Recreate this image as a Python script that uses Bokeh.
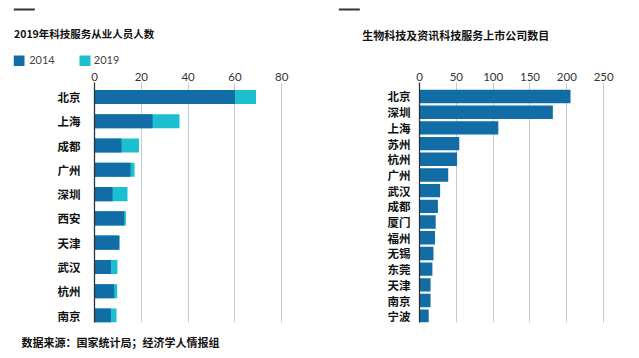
from bokeh.plotting import figure
from bokeh.models import Range1d, FixedTicker
from bokeh.layouts import row, column
from bokeh.core.properties import value
from bokeh.embed import file_html
from bokeh.resources import INLINE

# ---- data ----
cities1 = ["北京", "上海", "成都", "广州", "深圳", "西安", "天津", "武汉", "杭州", "南京"]
staff_2014 = [60, 24.8, 11.5, 15.4, 7.7, 12.7, 10.7, 7.0, 8.4, 7.0]
staff_2019 = [69, 36.3, 19.0, 17.1, 14.1, 13.4, 10.3, 9.8, 9.7, 9.4]
ticks1 = [0, 20, 40, 60, 80]

cities2 = ["北京", "深圳", "上海", "苏州", "杭州", "广州", "武汉", "成都", "厦门", "福州",
           "无锡", "东莞", "天津", "南京", "宁波"]
companies = [205, 181, 107, 54, 51, 39, 28, 25, 22, 21, 19, 17.5, 15, 15, 12.5]
ticks2 = [0, 50, 100, 150, 200, 250]

title1 = "2019年科技服务从业人员人数"
title2 = "生物科技及资讯科技服务上市公司数目"
source = "数据来源：国家统计局；经济学人情报组"
legend_labels = ["2014", "2019"]

DARK = "#126ca5"
LIGHT = "#1bbfd0"
GRID = "#bfcdd6"
INK = "#333333"
CJK = "Noto Sans CJK SC"
NUM = "Lato"

W = 631
HEAD_H = 66
CHART_H = 264
FOOT_H = 20
TOP = 82 - HEAD_H


def canvas_fig(width, height):
    p = figure(width=width, height=height, output_backend="svg", toolbar_location=None,
               x_range=Range1d(0, width), y_range=Range1d(height, 0),
               x_axis_type=None, y_axis_type=None, min_border=0)
    p.outline_line_color = None
    p.grid.visible = False
    return p


def chart(width, left, right, xend, ystart, yend, ticks, cats, standoff_x, standoff_y):
    p = figure(width=width, height=CHART_H, output_backend="svg", toolbar_location=None,
               x_range=Range1d(0, xend), y_range=Range1d(ystart, yend),
               x_axis_location="above",
               min_border_left=left, min_border_right=right,
               min_border_top=TOP, min_border_bottom=CHART_H - TOP - 240)
    p.outline_line_color = None
    p.xaxis.ticker = FixedTicker(ticks=ticks)
    p.xgrid.ticker = p.xaxis.ticker
    p.xgrid.grid_line_color = GRID
    p.xgrid.grid_line_width = 1
    p.ygrid.grid_line_color = None
    p.xaxis.axis_line_color = None
    p.xaxis.major_tick_line_color = None
    p.xaxis.minor_tick_line_color = None
    p.xaxis.major_tick_out = 0
    p.xaxis.major_tick_in = 0
    p.xaxis.minor_tick_out = 0
    p.xaxis.major_label_text_font = NUM
    p.xaxis.major_label_text_font_size = "11.5px"
    p.xaxis.major_label_text_color = INK
    p.xaxis.major_label_standoff = standoff_x
    ys = list(range(len(cats)))
    p.yaxis.ticker = FixedTicker(ticks=ys)
    p.yaxis.major_label_overrides = {i: c for i, c in enumerate(cats)}
    p.yaxis.axis_line_color = INK
    p.yaxis.axis_line_width = 1.3
    p.yaxis.major_tick_line_color = None
    p.yaxis.minor_tick_line_color = None
    p.yaxis.major_tick_out = 0
    p.yaxis.major_tick_in = 0
    p.yaxis.minor_tick_out = 0
    p.yaxis.major_label_text_font = CJK
    p.yaxis.major_label_text_font_style = "bold"
    p.yaxis.major_label_text_font_size = "11.5px"
    p.yaxis.major_label_text_color = "#111111"
    p.yaxis.major_label_standoff = standoff_y
    return p, ys


# ---- header (titles, rules, legend) ----
head = canvas_fig(W, HEAD_H)
head.quad(left=[13.3, 338.3], right=[34.3, 359.3], top=[8, 8], bottom=[10, 10],
          fill_color=INK, line_color=None)
head.text(x=[13.5], y=[33], text=[title1],
          text_font=value(CJK), text_font_size="10.5px", text_font_style="bold",
          text_color="#111111", text_baseline="middle", text_align="left")
head.text(x=[361.7], y=[34], text=[title2],
          text_font=value(CJK), text_font_size="11px", text_font_style="bold",
          text_color="#111111", text_baseline="middle", text_align="left")
head.quad(left=[13.3, 79], right=[24, 90], top=[55, 55], bottom=[65.7, 65.7],
          fill_color=[DARK, LIGHT], line_color=None)
head.text(x=[28.7, 93.3], y=[59.3, 59.3], text=legend_labels,
          text_font=value(NUM), text_font_size="11px",
          text_color="#444444", text_baseline="middle", text_align="left")

# ---- left chart ----
p1, ys1 = chart(320, 94, 20, 88, 9.287, -0.594, ticks1, cities1, 2, 14)
p1.hbar(y=ys1, left=0, right=staff_2019, height=0.58, fill_color=LIGHT, line_color=None)
p1.hbar(y=ys1, left=0, right=staff_2014, height=0.58, fill_color=DARK, line_color=None)

# ---- right chart ----
p2, ys2 = chart(W - 320, 99, 19, 262, 14.40, -0.892, ticks2, cities2, 2, 9)
p2.hbar(y=ys2, left=0, right=companies, height=0.854, fill_color=DARK, line_color=None)

# ---- footer ----
foot = canvas_fig(W, FOOT_H)
foot.text(x=[21], y=[11.7], text=[source],
          text_font=value(CJK), text_font_size="11px", text_font_style="bold",
          text_color="#111111", text_baseline="middle", text_align="left")

layout = column(head, row(p1, p2), foot)
open("out.html", "w").write(file_html(layout, INLINE))
